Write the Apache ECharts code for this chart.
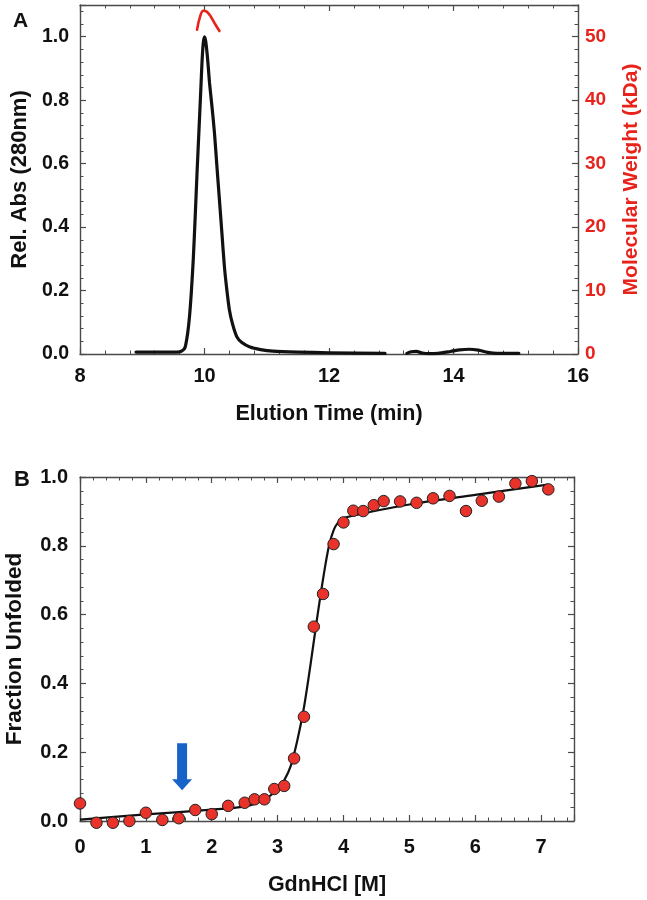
<!DOCTYPE html>
<html><head><meta charset="utf-8">
<script src="https://cdn.jsdelivr.net/npm/echarts@6/dist/echarts.min.js"></script>
<style>html,body{margin:0;padding:0;background:#fff}#c{width:647px;height:900px}</style>
</head><body><div id="c"></div>
<script>
// Panel A: SEC elution profile
const elutionTime = [8.9, 9.3, 9.6, 9.66, 9.69, 9.73, 9.76, 9.79, 9.82, 9.85, 9.88, 9.91, 9.94, 9.96, 9.98, 10.0, 10.02, 10.05, 10.08, 10.12, 10.16, 10.2, 10.24, 10.28, 10.32, 10.36, 10.4, 10.45, 10.52, 10.6, 10.73, 10.9, 11.1, 11.5, 12.0, 12.9, null, 13.25, 13.32, 13.4, 13.5, 13.6, 13.75, 13.95, 14.1, 14.25, 14.4, 14.55, 14.7, 15.05];
const relAbs      = [0.006, 0.006, 0.007, 0.013, 0.022, 0.066, 0.12, 0.2, 0.3, 0.43, 0.57, 0.70, 0.83, 0.92, 0.98, 1.0, 0.985, 0.93, 0.856, 0.78, 0.697, 0.59, 0.486, 0.38, 0.275, 0.2, 0.139, 0.095, 0.054, 0.036, 0.022, 0.014, 0.009, 0.006, 0.004, 0.002, null, 0.002, 0.007, 0.008, 0.003, 0.001, 0.002, 0.008, 0.013, 0.015, 0.012, 0.005, 0.002, 0.002];
const mwTime = [9.88, 9.93, 9.98, 10.03, 10.1, 10.17, 10.24];
const mwKDa  = [51.1, 53.2, 54.1, 54.0, 53.2, 52.0, 50.9];

// Panel B: GdnHCl denaturation
const gdn      = [0, 0.25, 0.5, 0.75, 1.0, 1.25, 1.5, 1.75, 2.0, 2.25, 2.5, 2.65, 2.8, 2.95, 3.1, 3.25, 3.4, 3.55, 3.69, 3.85, 4.0, 4.15, 4.3, 4.46, 4.61, 4.86, 5.11, 5.36, 5.61, 5.86, 6.1, 6.36, 6.61, 6.86, 7.11];
const fracUnf  = [0.051, -0.005, -0.005, 0.0, 0.024, 0.003, 0.008, 0.032, 0.02, 0.044, 0.053, 0.063, 0.063, 0.093, 0.102, 0.182, 0.303, 0.565, 0.66, 0.805, 0.868, 0.902, 0.901, 0.918, 0.93, 0.929, 0.925, 0.938, 0.945, 0.901, 0.931, 0.943, 0.981, 0.988, 0.964];
const fitX = [0, 1, 2, 2.5, 2.7, 2.85, 3.0, 3.1, 3.2, 3.3, 3.4, 3.5, 3.6, 3.7, 3.78, 3.85, 3.92, 4.0, 4.2, 5.0, 6.0, 7.1];
const fitY = [0.004, 0.019, 0.033, 0.042, 0.053, 0.068, 0.092, 0.118, 0.16, 0.235, 0.33, 0.455, 0.59, 0.715, 0.8, 0.845, 0.868, 0.88, 0.89, 0.92, 0.948, 0.978];
const arrowAt = [1.55, 0.158];

const FONT = 'Liberation Sans, Arial, sans-serif';
const AX = '#4a4a4a';
const RED = '#e8231b';
function zip(a, b) { return a.map((v, i) => (v === null ? [null, null] : [v, b[i]])); }

function box(gridIndex, min, max, interval, pos, showLabel, fs, extra) {
  return Object.assign({
    gridIndex, type: 'value', min, max, interval, position: pos,
    axisLine: { show: true, onZero: false, lineStyle: { color: AX, width: 1.4 } },
    axisTick: { show: true, inside: true, length: 6, lineStyle: { color: AX, width: 1.2 } },
    minorTick: { show: true, splitNumber: 5, length: 3.5, lineStyle: { color: AX, width: 1 } },
    splitLine: { show: false },
    axisLabel: { show: showLabel, color: '#111', fontWeight: 'bold', fontSize: fs, fontFamily: FONT, showMaxLabel: false, margin: 12 }
  }, extra || {});
}
const titleStyle = (fs, color) => ({ color: color || '#111', fontWeight: 'bold', fontSize: fs, fontFamily: FONT });

const chart = echarts.init(document.getElementById('c'), null, { renderer: 'canvas' });
chart.setOption({
  animation: false,
  backgroundColor: '#fff',
  title: [
    { text: 'A', left: 8, top: 6, textStyle: { fontSize: 21, fontWeight: 'bold', fontFamily: FONT, color: '#111' } },
    { text: 'B', left: 9, top: 464, textStyle: { fontSize: 22, fontWeight: 'bold', fontFamily: FONT, color: '#111' } }
  ],
  grid: [
    { left: 80, top: 5, width: 498, height: 349, containLabel: false, outerBoundsMode: 'none' },
    { left: 80, top: 477, width: 494, height: 344, containLabel: false, outerBoundsMode: 'none' }
  ],
  xAxis: [
    box(0, 8, 16, 2, 'bottom', true, 20, { name: 'Elution Time (min)', nameLocation: 'middle', nameGap: 49,
      axisLabel: { show: true, color: '#111', fontWeight: 'bold', fontSize: 20, fontFamily: FONT, margin: 12 },
      nameTextStyle: titleStyle(21.5) }),
    box(0, 8, 16, 2, 'top', false, 20),
    box(1, 0, 7.5, 1, 'bottom', true, 20, { name: 'GdnHCl [M]', nameLocation: 'middle', nameGap: 53,
      axisLabel: { show: true, color: '#111', fontWeight: 'bold', fontSize: 20, fontFamily: FONT, margin: 16, showMaxLabel: false },
      nameTextStyle: titleStyle(21.5) }),
    box(1, 0, 7.5, 1, 'top', false, 20)
  ],
  yAxis: [
    box(0, 0, 1.1, 0.2, 'left', true, 19.5, { name: 'Rel. Abs (280nm)', nameLocation: 'middle', nameGap: 49,
      axisLabel: { show: true, color: '#111', fontWeight: 'bold', fontSize: 19.5, fontFamily: FONT, showMaxLabel: false, margin: 11, formatter: v => v.toFixed(1) },
      nameTextStyle: titleStyle(22) }),
    box(0, 0, 55, 10, 'right', true, 19, { name: 'Molecular Weight (kDa)', nameLocation: 'middle', nameGap: 43,
      axisLabel: { show: true, color: RED, fontWeight: 'bold', fontSize: 19, fontFamily: FONT, showMaxLabel: false, margin: 7 },
      nameTextStyle: titleStyle(21, RED) }),
    box(1, 0, 1, 0.2, 'left', true, 20, { name: 'Fraction Unfolded', nameLocation: 'middle', nameGap: 54,
      axisLabel: { show: true, color: '#111', fontWeight: 'bold', fontSize: 20, fontFamily: FONT, margin: 12, formatter: v => v.toFixed(1) },
      nameTextStyle: titleStyle(22.5) }),
    box(1, 0, 1, 0.2, 'right', false, 20)
  ],
  series: [
    { type: 'line', xAxisIndex: 0, yAxisIndex: 0, data: zip(elutionTime, relAbs), showSymbol: false, smooth: 0.25,
      connectNulls: false, lineStyle: { color: '#111', width: 3.2, cap: 'round', join: 'round' } },
    { type: 'line', xAxisIndex: 0, yAxisIndex: 1, data: zip(mwTime, mwKDa), showSymbol: false, smooth: 0.4, clip: false,
      lineStyle: { color: RED, width: 2.6, cap: 'round' } },
    { type: 'line', xAxisIndex: 2, yAxisIndex: 2, data: zip(fitX, fitY), showSymbol: false, smooth: 0.3,
      lineStyle: { color: '#111', width: 2.2, join: 'round' }, z: 3 },
    { type: 'scatter', xAxisIndex: 2, yAxisIndex: 2, data: zip(gdn, fracUnf), symbol: 'circle', symbolSize: 11.5, clip: false,
      itemStyle: { color: '#e8322a', borderColor: '#222', borderWidth: 1, opacity: 1 }, z: 4,
      markPoint: { symbol: 'path://M5,0 L15,0 L15,36 L20,36 L10,47 L0,36 L5,36 Z', symbolSize: [20, 47],
        itemStyle: { color: '#1763c9' }, label: { show: false },
        data: [{ coord: arrowAt }] } }
  ]
});
</script></body></html>
